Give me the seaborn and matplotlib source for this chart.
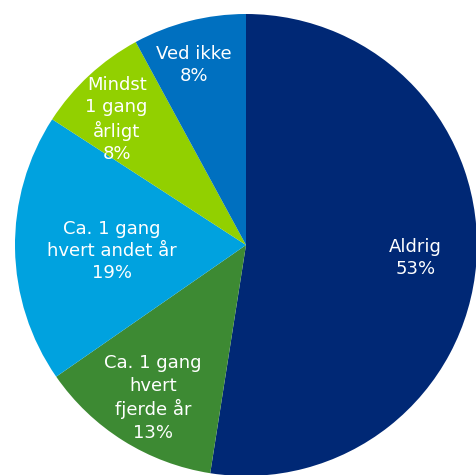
"""Kagediagram: hvor ofte (andel i procent)."""

import matplotlib

matplotlib.use("Agg")
import matplotlib.pyplot as plt
import numpy as np
import seaborn as sns

labels = [
    "Aldrig",
    "Ca. 1 gang\nhvert\nfjerde år",
    "Ca. 1 gang\nhvert andet år",
    "Mindst\n1 gang\nårligt",
    "Ved ikke",
]
values = [53, 13, 19, 8, 8]
colors = ["#002875", "#3d8a33", "#00a2df", "#92d000", "#0070c0"]

# label placement (radius fraction, angle nudge in degrees)
label_r = [0.735, 0.775, 0.58, 0.78, 0.81]
label_nudge = [0, 0.8, 1.8, 3.1, 1.9]

sns.set_theme(style="white")
plt.rcParams["font.family"] = ["DejaVu Sans"]

fig = plt.figure(figsize=(4.77, 4.75), dpi=100)
ax = fig.add_axes([0, 0, 1, 1])

wedges, _ = ax.pie(
    values,
    colors=sns.color_palette(colors),
    startangle=90,
    counterclock=False,
    wedgeprops={"linewidth": 0},
)

for w, lab, v, r, dn in zip(wedges, labels, values, label_r, label_nudge):
    mid = np.deg2rad((w.theta1 + w.theta2) / 2 + dn)
    ax.text(
        r * np.cos(mid),
        r * np.sin(mid),
        f"{lab}\n{v}%",
        ha="center",
        va="center",
        color="white",
        fontsize=13,
        linespacing=1.3,
    )

ax.set_aspect("auto")
ax.set_xlim(-246 / 231, (477 - 246) / 231)
ax.set_ylim(-230 / 231, (475 - 230) / 231)
ax.axis("off")

fig.savefig("out.png", dpi=100)
